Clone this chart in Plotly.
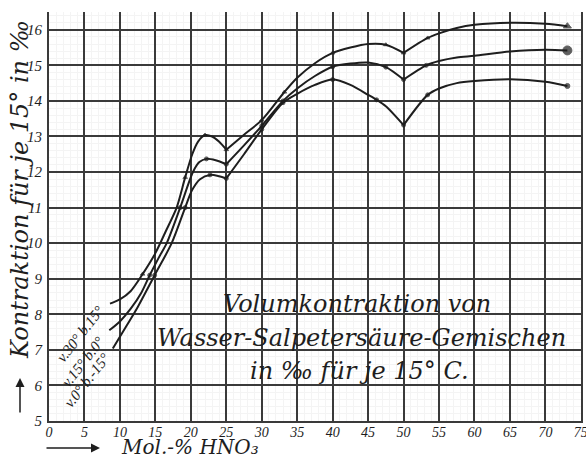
import plotly.graph_objects as go

# ---- data ----
series_names = ["v.30° b.15°", "v.15° b.0°", "v.0° b.-15°"]

A_x = [8.6, 10, 11.5, 13.2, 15, 16.5, 18, 19.2, 20.2, 21, 22, 23, 24, 25,
       27.5, 30, 33.2, 35, 37.5, 40, 42.5, 45, 47.5, 50,
       53.4, 55, 57.5, 60, 65, 70, 73.1]
A_y = [8.30, 8.42, 8.65, 9.13, 9.72, 10.35, 11.0, 11.85, 12.5, 12.85, 13.04, 13.0, 12.85, 12.63,
       13.05, 13.46, 14.25, 14.65, 15.06, 15.35, 15.5, 15.6, 15.58, 15.35,
       15.77, 15.9, 16.05, 16.14, 16.2, 16.17, 16.1]
A_mark = [13.2, 19.2, 22, 25, 30, 33.2, 40, 47.5, 50, 53.4, 73.1]

B_x = [8.5, 10, 11.5, 13, 14.2, 15.5, 16.6, 18.5, 20.3, 21.2, 22.2, 23.5, 25,
       27.5, 30, 33, 35, 37.5, 40, 42.5, 45, 47.5, 50,
       53.2, 55, 57.5, 60, 65, 70, 73.1]
B_y = [7.55, 7.8, 8.15, 8.6, 9.1, 9.6, 10.0, 11.0, 12.0, 12.28, 12.37, 12.33, 12.22,
       12.75, 13.3, 14.0, 14.35, 14.7, 14.96, 15.05, 15.08, 14.95, 14.6,
       15.0, 15.12, 15.22, 15.27, 15.39, 15.44, 15.42]
B_mark = [14.2, 18.5, 22.2, 25, 30, 33, 40, 47.5, 50, 53.2, 73.1]

C_x = [9.0, 11, 12.5, 14.9, 17.3, 19.2, 20.2, 21.3, 22.7, 24, 25,
       27.5, 30, 33, 35, 37.5, 40, 42.5, 45, 46.2, 47.5, 50,
       53.4, 55, 57.5, 60, 65, 70, 73.1]
C_y = [7.04, 7.7, 8.2, 9.1, 10.0, 11.0, 11.5, 11.8, 11.92, 11.88, 11.82,
       12.5, 13.2, 13.95, 14.2, 14.45, 14.6, 14.45, 14.17, 14.03, 13.85, 13.32,
       14.17, 14.35, 14.5, 14.56, 14.61, 14.54, 14.42]
C_mark = [14.9, 19.2, 22.7, 25, 30, 33, 40, 46.2, 50, 53.4, 73.1]

cusps = [25, 50]
x_ticks = list(range(0, 80, 5))
y_ticks = list(range(5, 17))

title_lines = ["Volumkontraktion von", "Wasser-Salpetersäure-Gemischen", "in ‰ für je 15° C."]
y_title = "Kontraktion für je 15° in ‰"
x_title = "Mol.-% HNO₃"

# ---- styling ----
INK = "#1e1e1e"
GRID = "#3a3a3a"
FONT = "DejaVu Serif"
TICKFONT = "Liberation Serif"

W, H = 586, 459
ML, MR, MT, MB = 49, 5, 12, 38
PW, PH = W - ML - MR, H - MT - MB


def px_to_paper_x(px):
    return (px - ML) / PW


def px_to_paper_y(py):
    return (H - MB - py) / PH


fig = go.Figure()

series = [(A_x, A_y, A_mark, "triangle-up", 4, 7),
          (B_x, B_y, B_mark, "circle", 4, 9),
          (C_x, C_y, C_mark, "circle", 4, 5)]

for (xs, ys, marks, sym, msize, endsize), name in zip(series, series_names):
    bounds = [min(xs)] + cusps + [max(xs)]
    for lo, hi in zip(bounds[:-1], bounds[1:]):
        sx = [x for x in xs if lo <= x <= hi]
        sy = [y for x, y in zip(xs, ys) if lo <= x <= hi]
        fig.add_trace(go.Scatter(x=sx, y=sy, mode="lines",
                                 line=dict(color=INK, width=2, shape="spline", smoothing=0.8),
                                 hoverinfo="skip", showlegend=False, name=name))
    mx = marks
    my = [ys[xs.index(m)] for m in marks]
    sizes = [msize] * (len(mx) - 1) + [endsize]
    fig.add_trace(go.Scatter(x=mx, y=my, mode="markers", showlegend=False, name=name,
                             marker=dict(symbol=sym, size=sizes, color=INK,
                                         line=dict(color=INK, width=1))))

# curve labels near the starts
label_pos = [(4.4, 7.45), (4.8, 6.65), (5.4, 6.15)]
for (lx, ly), txt in zip(label_pos, series_names):
    fig.add_annotation(x=lx, y=ly, text=txt, showarrow=False, textangle=-52,
                       font=dict(family=TICKFONT, size=15, color=INK, style="italic"))

# inscription in the plot
for (tx, ty), txt in zip([(43.5, 8.3), (44, 7.32), (43.8, 6.42)], title_lines):
    fig.add_annotation(x=tx, y=ty, text=txt, showarrow=False,
                       font=dict(family=FONT, size=24, color=INK, style="italic"))

# axis titles with arrows
fig.add_annotation(xref="paper", yref="paper", x=px_to_paper_x(20), y=px_to_paper_y(190),
                   text=y_title, showarrow=False, textangle=-90,
                   xanchor="center", yanchor="middle",
                   font=dict(family=FONT, size=24, color=INK, style="italic"))
fig.add_annotation(xref="paper", yref="paper", axref="pixel", ayref="pixel",
                   x=px_to_paper_x(20), y=px_to_paper_y(378), ax=0, ay=36, text="",
                   showarrow=True, arrowhead=2, arrowsize=1.2, arrowwidth=1.5, arrowcolor=INK)
fig.add_annotation(xref="paper", yref="paper", x=px_to_paper_x(190), y=px_to_paper_y(447),
                   text=x_title, showarrow=False, xanchor="center", yanchor="middle",
                   font=dict(family=FONT, size=20, color=INK, style="italic"))
fig.add_annotation(xref="paper", yref="paper", x=px_to_paper_x(100), y=px_to_paper_y(448),
                   ax=-55, ay=0, text="",
                   showarrow=True, arrowhead=2, arrowsize=1.2, arrowwidth=1.5, arrowcolor=INK)

fig.update_layout(
    width=W, height=H, autosize=False,
    margin=dict(l=ML, r=MR, t=MT, b=MB, autoexpand=False),
    paper_bgcolor="white", plot_bgcolor="white",
    font=dict(family=TICKFONT, color=INK),
)
fig.update_xaxes(range=[0, 75.02], tickvals=x_ticks, ticktext=[str(v) for v in x_ticks],
                 showgrid=True, gridcolor=GRID, gridwidth=1.6,
                 showline=True, linecolor=GRID, linewidth=2, zeroline=False,
                 ticks="", ticklabelstandoff=-3, ticklabeloverflow="allow", automargin=False,
                 tickfont=dict(family=TICKFONT, size=14, color=INK, style="italic"),
                 minor=dict(dtick=1, showgrid=True, gridcolor="#f4f4f4", gridwidth=0.5))
fig.update_yaxes(range=[5, 16.5], tickvals=y_ticks, ticktext=[str(v) for v in y_ticks],
                 showgrid=True, gridcolor=GRID, gridwidth=1.6,
                 showline=True, mirror=True, linecolor=GRID, linewidth=2, zeroline=False,
                 ticks="", ticklabelstandoff=2, automargin=False,
                 tickfont=dict(family=TICKFONT, size=15, color=INK, style="italic"),
                 minor=dict(dtick=0.2, showgrid=True, gridcolor="#f4f4f4", gridwidth=0.5))

# remove the browser's default page margin so the figure sits at the window origin
fig.write_html("out.html", config={"displayModeBar": False, "responsive": False},
               post_script="document.body.style.margin='0';document.body.style.overflow='hidden';")
